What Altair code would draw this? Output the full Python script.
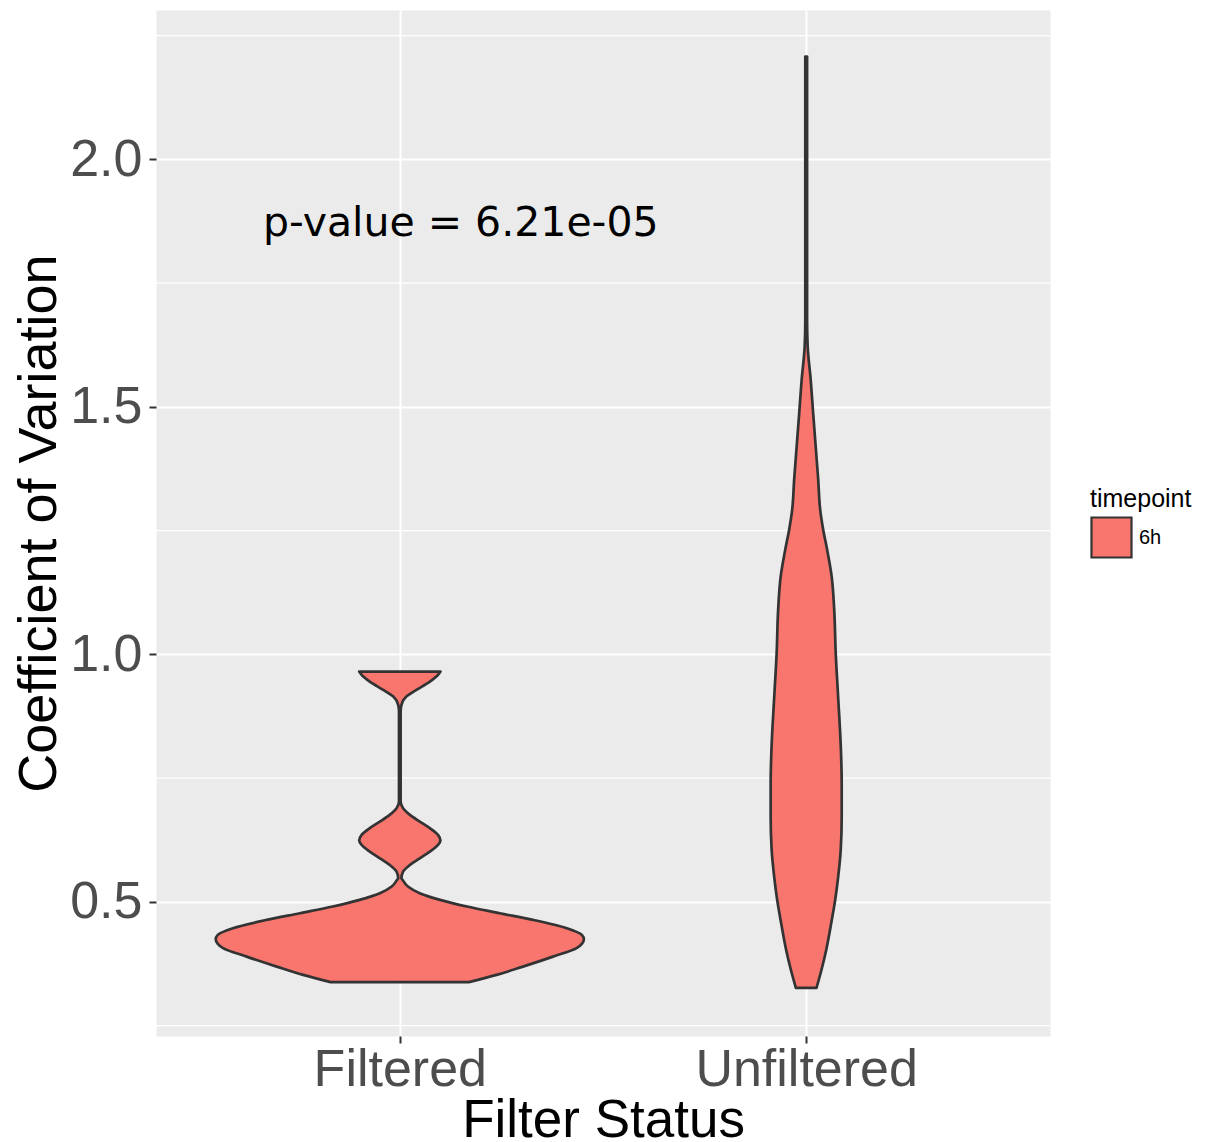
import altair as alt
import pandas as pd

# Categories on the x axis and their positions on a continuous scale
categories = ["Filtered", "Unfiltered"]
category_pos = [1, 2]

# Violin outlines: coefficient of variation (cv) and half-width in category units
filtered_cv = [0.3378, 0.3525, 0.3693, 0.3895, 0.4065, 0.4152, 0.4246, 0.4333,
               0.4469, 0.4636, 0.4771, 0.4906, 0.5040, 0.5175, 0.5310, 0.5444,
               0.5480, 0.5610, 0.5747, 0.5880, 0.6016, 0.6150, 0.6240, 0.6354,
               0.6489, 0.6623, 0.6758, 0.6893, 0.7027, 0.8845, 0.8980, 0.9148,
               0.9283, 0.9450, 0.9586, 0.9653]
filtered_half = [0.170, 0.238, 0.303, 0.377, 0.435, 0.448, 0.453, 0.448,
                 0.411, 0.328, 0.246, 0.165, 0.099, 0.049, 0.020, 0.007,
                 0.004, 0.008, 0.025, 0.049, 0.074, 0.094, 0.100, 0.094,
                 0.074, 0.049, 0.025, 0.008, 0.002, 0.002, 0.004, 0.016,
                 0.041, 0.074, 0.094, 0.100]

unfiltered_cv = [0.3263, 0.3630, 0.4030, 0.4570, 0.5040, 0.5510, 0.6050, 0.6720,
                 0.7400, 0.8070, 0.9220, 1.0020, 1.0900, 1.1570, 1.2110, 1.2520,
                 1.2920, 1.3530, 1.4200, 1.4870, 1.5550, 1.6220, 1.6760, 2.2077]
unfiltered_half = [0.0254, 0.0377, 0.0493, 0.0616, 0.0714, 0.0788, 0.0850, 0.0874,
                   0.0874, 0.0855, 0.0781, 0.0727, 0.0690, 0.0628, 0.0517, 0.0419,
                   0.0345, 0.0296, 0.0234, 0.0172, 0.0111, 0.0037, 0.0022, 0.0022]

major_breaks = [0.5, 1.0, 1.5, 2.0]
minor_breaks = [0.25, 0.75, 1.25, 1.75, 2.25]

p_label = "p-value = 6.21e-05"
p_x, p_y = 1.15, 1.87

timepoint = "6h"
fill_color = "#F8766D"
outline_color = "#333333"

rows = []
for name, pos, cvs, halves in [
    (categories[0], category_pos[0], filtered_cv, filtered_half),
    (categories[1], category_pos[1], unfiltered_cv, unfiltered_half),
]:
    for cv, h in zip(cvs, halves):
        rows.append({"status": name, "pos": pos, "cv": cv, "half": h,
                     "timepoint": timepoint})
violin_df = pd.DataFrame(rows)

minor_df = pd.DataFrame({"cv": minor_breaks})
label_df = pd.DataFrame({"pos": [p_x], "cv": [p_y], "label": [p_label]})

AXIS_FONT = "Liberation Sans"

y_scale = alt.Scale(domain=[0.2291, 2.3018], nice=False, zero=False)
y_axis = alt.Axis(
    values=major_breaks, format=".1f", title="Coefficient of Variation",
    labelFontSize=52, labelColor="#4D4D4D", labelFont=AXIS_FONT, labelPadding=7,
    labelBaseline="middle",
    tickColor=outline_color, tickSize=7, tickWidth=2, domain=False,
    grid=True, gridColor="white", gridWidth=2,
    titleFont=AXIS_FONT, titleFontSize=54, titleFontWeight="normal",
    titleColor="black", titleX=-101, titleY=513, titleAngle=-90,
    titleBaseline="alphabetic", titleAlign="center",
)

x_scale = alt.Scale(domain=[0.4, 2.6], nice=False, zero=False)
x_axis = alt.Axis(
    values=category_pos,
    labelExpr="datum.value == 1 ? 'Filtered' : 'Unfiltered'",
    title="Filter Status", labelLimit=0,
    labelFontSize=52, labelColor="#4D4D4D", labelFont=AXIS_FONT, labelPadding=1,
    tickColor=outline_color, tickSize=7, tickWidth=2, domain=False,
    grid=True, gridColor="white", gridWidth=2,
    titleFont=AXIS_FONT, titleFontSize=53, titleFontWeight="normal",
    titleColor="black", titleX=447, titleY=100, titleBaseline="alphabetic",
    titleAlign="center",
)


def y_enc():
    return alt.Y("cv:Q", scale=y_scale, axis=y_axis, title="Coefficient of Variation")


def x_enc(field):
    return alt.X(f"{field}:Q", scale=x_scale, axis=x_axis, title="Filter Status",
                 stack=None)


minor_grid = alt.Chart(minor_df).mark_rule(color="white", strokeWidth=1.1).encode(
    y=y_enc()
)

violins = alt.Chart(violin_df).transform_calculate(
    lo="datum.pos - datum.half",
    hi="datum.pos + datum.half",
).mark_area(
    orient="horizontal", interpolate="monotone",
    stroke=outline_color, strokeWidth=2.7, strokeJoin="round", opacity=1,
).encode(
    y=y_enc(),
    x=x_enc("lo"),
    x2=alt.X2("hi:Q"),
    color=alt.Color(
        "timepoint:N",
        scale=alt.Scale(domain=[timepoint], range=[fill_color]),
        legend=alt.Legend(
            title="timepoint", orient="none", legendX=934, legendY=477,
            titleFont=AXIS_FONT, titleFontSize=25, titleFontWeight="normal",
            titleColor="black", titlePadding=4,
            labelFont=AXIS_FONT, labelFontSize=20, labelColor="black",
            labelOffset=6, symbolType="square", symbolSize=1600,
            symbolStrokeColor=outline_color, symbolStrokeWidth=2.2,
            symbolOpacity=1, padding=0,
        ),
    ),
    detail="status:N",
)

p_text = alt.Chart(label_df).mark_text(
    font="DejaVu Sans", fontSize=41, color="black",
    align="center", baseline="middle",
).encode(
    x=x_enc("pos"),
    y=y_enc(),
    text="label:N",
)

chart = alt.layer(minor_grid, violins, p_text).properties(
    width=894,
    height=1026,
    padding={"left": 156, "top": 10, "right": 155, "bottom": 106},
    autosize=alt.AutoSizeParams(type="none"),
    background="white",
).configure_view(
    fill="#EBEBEB", stroke="transparent"
)

chart.save("out.html", embed_options={"renderer": "svg", "actions": False})
